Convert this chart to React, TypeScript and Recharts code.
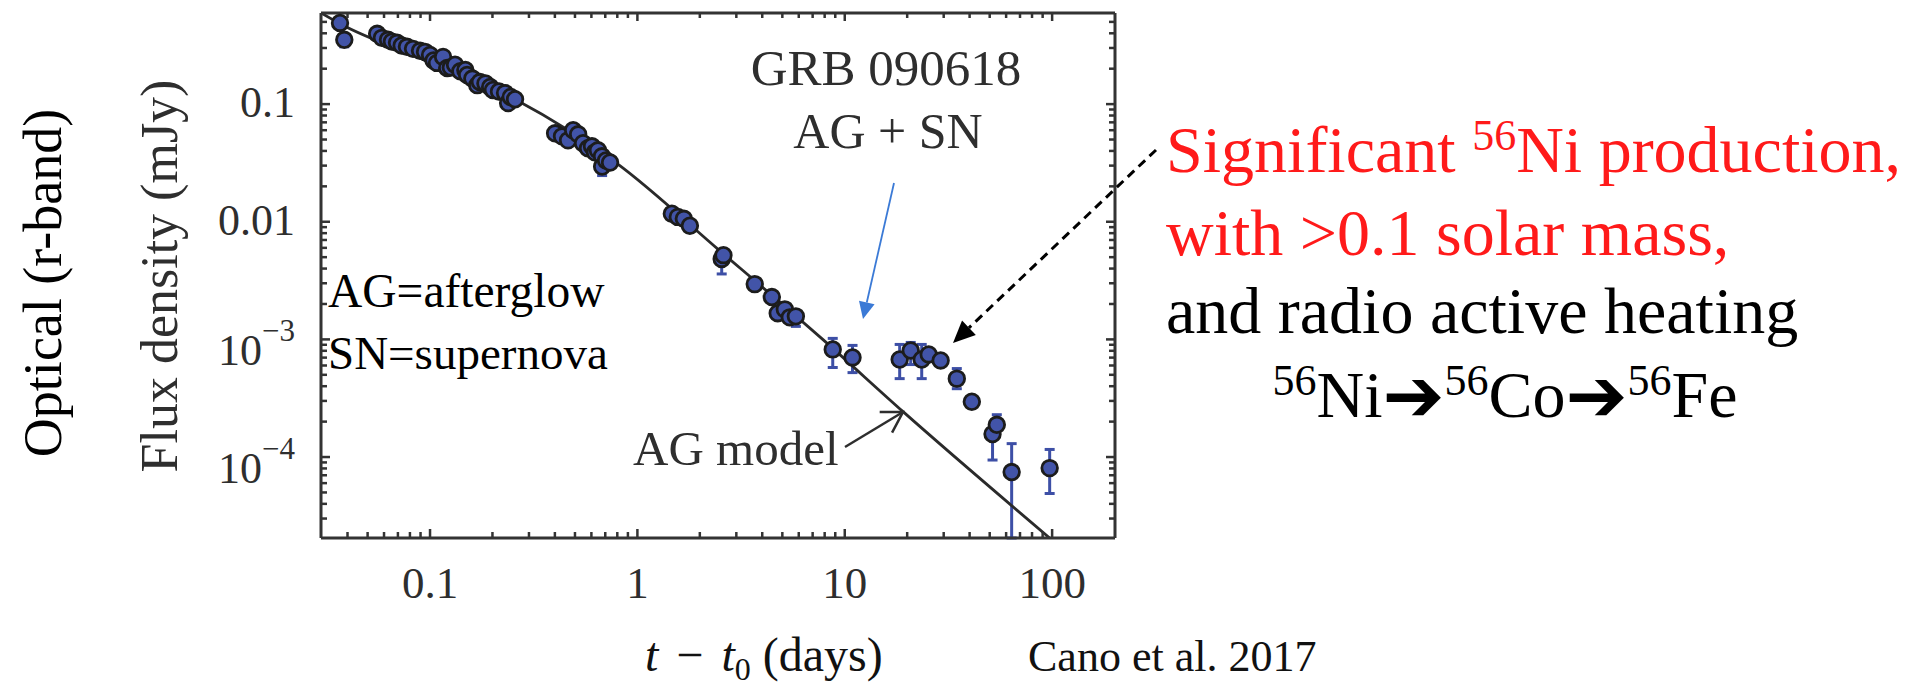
import React from "react";
import { ComposedChart, Scatter, Line, XAxis, YAxis, ErrorBar } from "recharts";

// r-band photometry of GRB 090618 (days since trigger, flux density in mJy)
const obsTime = [
  0.0368, 0.0386,
  0.0556, 0.0586, 0.0627, 0.0655, 0.0693, 0.073, 0.0774, 0.0828, 0.0895, 0.0946,
  0.1, 0.104, 0.108, 0.1156, 0.121, 0.126, 0.132, 0.14, 0.148, 0.151,
  0.16, 0.169, 0.174, 0.185, 0.195, 0.201, 0.215, 0.23, 0.238, 0.245, 0.257,
  0.401, 0.433, 0.463, 0.49, 0.518, 0.547, 0.578, 0.604, 0.624, 0.645, 0.675, 0.676, 0.706, 0.738,
  1.466, 1.566, 1.675, 1.791, 2.55, 2.6, 3.68, 4.45, 4.75, 5.14, 5.43, 5.81,
  8.75, 10.9, 18.4, 20.8, 23.5, 25.4, 29.0, 34.7, 41.0, 51.6, 54.1, 63.8, 97.3,
];
const obsFlux = [
  0.49, 0.352,
  0.396, 0.366, 0.352, 0.34, 0.332, 0.315, 0.307, 0.295, 0.284, 0.278,
  0.262, 0.235, 0.224, 0.252, 0.203, 0.205, 0.216, 0.19, 0.195, 0.177,
  0.165, 0.145, 0.154, 0.15, 0.14, 0.132, 0.128, 0.124, 0.102, 0.115, 0.11,
  0.0565, 0.0532, 0.0492, 0.06, 0.0554, 0.0465, 0.0421, 0.0438, 0.0389, 0.0405, 0.036, 0.0295, 0.0332, 0.0319,
  0.0117, 0.011, 0.0106, 0.00925, 0.00483, 0.0052, 0.00295, 0.00229, 0.00167, 0.0018, 0.00154, 0.00157,
  8.22e-4, 7.02e-4, 6.75e-4, 8.05e-4, 6.75e-4, 7.45e-4, 6.62e-4, 4.64e-4, 2.95e-4, 1.57e-4, 1.88e-4, 7.45e-5, 8.05e-5,
];

// points with a visible error bar: lower / upper end of the bar
const barTime = [0.0386, 0.676, 2.55, 5.81, 8.75, 10.9, 18.4, 20.8, 23.5, 34.7, 51.6, 54.1, 63.8, 97.3];
const barLow = [0.307, 0.0247, 0.0036, 0.00129, 5.77e-4, 5.22e-4, 4.64e-4, 6.11e-4, 4.64e-4, 3.81e-4, 9.43e-5, 1.88e-4, 2.05e-5, 4.9e-5];
const barHigh = [0.352, 0.0295, 0.00483, 0.00157, 1.02e-3, 8.89e-4, 9.06e-4, 9.42e-4, 9.06e-4, 5.65e-4, 1.57e-4, 2.29e-4, 1.3e-4, 1.16e-4];

// afterglow model curve
const modelTime = [0.0298, 0.0368, 0.1, 0.262, 0.796, 2.5, 7.83, 19.1, 97.3];
const modelFlux = [0.595, 0.483, 0.229, 0.108, 0.0313, 0.00565, 0.001, 2.43e-4, 2.05e-5];

const xMajorTicks = [0.1, 1, 10, 100];
const xMajorLabels = ["0.1", "1", "10", "100"];
const xMinorTicks = [
  0.04, 0.05, 0.06, 0.07, 0.08, 0.09,
  0.2, 0.3, 0.4, 0.5, 0.6, 0.7, 0.8, 0.9,
  2, 3, 4, 5, 6, 7, 8, 9,
  20, 30, 40, 50, 60, 70, 80, 90,
];
const yMajorTicks = [0.1, 0.01, 0.001, 0.0001];
const yMajorBase = ["0.1", "0.01", "10", "10"];
const yMajorExp = ["", "", "−3", "−4"];
const yMinorTicks = [
  3e-5, 4e-5, 5e-5, 6e-5, 7e-5, 8e-5, 9e-5,
  2e-4, 3e-4, 4e-4, 5e-4, 6e-4, 7e-4, 8e-4, 9e-4,
  0.002, 0.003, 0.004, 0.005, 0.006, 0.007, 0.008, 0.009,
  0.02, 0.03, 0.04, 0.05, 0.06, 0.07, 0.08, 0.09,
  0.2, 0.3, 0.4, 0.5,
];

const W = 1930;
const H = 688;
const PLOT = { left: 321, right: 1115, top: 13, bottom: 538 };
const X_DOMAIN = [0.0298, 201];
const Y_DOMAIN = [2.05e-5, 0.595];

const SERIF = '"Liberation Serif", "Times New Roman", serif';
const FRAME = "#333333";
const INK = "#2e2e2e";
const POINT_FILL = "#4254a8";
const POINT_EDGE = "#1c1c1c";
const BAR = "#3d4fa6";
const RED = "#ff1a1a";

const points = obsTime.map((t, i) => {
  const f = obsFlux[i];
  const j = barTime.indexOf(t);
  return { t, f, err: j >= 0 ? [f - barLow[j], barHigh[j] - f] : [0, 0] };
});
const model = modelTime.map((t, i) => ({ t, f: modelFlux[i] }));

function BottomTick(props: any) {
  const { x, payload } = props;
  const i = xMajorTicks.indexOf(payload.value);
  const len = i >= 0 ? 9 : 6;
  return (
    <g>
      <line x1={x} x2={x} y1={PLOT.bottom} y2={PLOT.bottom - len} stroke={FRAME} strokeWidth={2.5} />
      {i >= 0 && (
        <text x={x} y={PLOT.bottom + 60} textAnchor="middle" fontSize={45} fill={INK} fontFamily={SERIF}>
          {xMajorLabels[i]}
        </text>
      )}
    </g>
  );
}

function TopTick(props: any) {
  const { x, payload } = props;
  const len = xMajorTicks.includes(payload.value) ? 8 : 5;
  return <line x1={x} x2={x} y1={PLOT.top} y2={PLOT.top + len} stroke={FRAME} strokeWidth={2.5} />;
}

function LeftTick(props: any) {
  const { y, payload } = props;
  const i = yMajorTicks.indexOf(payload.value);
  const len = i >= 0 ? 9 : 6;
  const lx = PLOT.left - 26;
  return (
    <g>
      <line x1={PLOT.left} x2={PLOT.left + len} y1={y} y2={y} stroke={FRAME} strokeWidth={2.5} />
      {i >= 0 && yMajorExp[i] === "" && (
        <text x={lx} y={y + 13} textAnchor="end" fontSize={44} fill={INK} fontFamily={SERIF}>
          {yMajorBase[i]}
        </text>
      )}
      {i >= 0 && yMajorExp[i] !== "" && (
        <text x={lx} y={y + 26} textAnchor="end" fontSize={44} fill={INK} fontFamily={SERIF}>
          {yMajorBase[i]}
          <tspan dy={-24} fontSize={31}>{yMajorExp[i]}</tspan>
        </text>
      )}
    </g>
  );
}

function RightTick(props: any) {
  const { y, payload } = props;
  const len = yMajorTicks.includes(payload.value) ? 9 : 6;
  return <line x1={PLOT.right} x2={PLOT.right - len} y1={y} y2={y} stroke={FRAME} strokeWidth={2.5} />;
}

function Dot(props: any) {
  return <circle cx={props.cx} cy={props.cy} r={7.8} fill={POINT_FILL} stroke={POINT_EDGE} strokeWidth={2.8} />;
}

function arrowHead(x1: number, y1: number, x2: number, y2: number, len: number, half: number) {
  const d = Math.hypot(x2 - x1, y2 - y1);
  const ux = (x2 - x1) / d;
  const uy = (y2 - y1) / d;
  const bx = x2 - ux * len;
  const by = y2 - uy * len;
  return {
    bx,
    by,
    a: [bx - uy * half, by + ux * half],
    b: [bx + uy * half, by - ux * half],
  };
}

function Annotations() {
  const blue = arrowHead(894, 183, 863, 319, 17, 8);
  const dash = arrowHead(1156, 150, 953, 343, 22, 10);
  const open = arrowHead(845, 447, 903, 412, 20, 12);
  const ARROW_FONT = '"DejaVu Sans", sans-serif';
  return (
    <svg width={W} height={H} style={{ position: "absolute", left: 0, top: 0, pointerEvents: "none" }} fontFamily={SERIF}>
      <text transform="translate(43,283) rotate(-90)" textAnchor="middle" dominantBaseline="central" fontSize={54} fill="#000">
        Optical (r-band)
      </text>
      <text transform="translate(159,276) rotate(-90)" textAnchor="middle" dominantBaseline="central" fontSize={52} fill={INK}>
        Flux density (mJy)
      </text>
      <text x={645} y={671} fontSize={48} fill="#111" xmlSpace="preserve">
        <tspan fontStyle="italic">t</tspan>
        <tspan dx={6}> − </tspan>
        <tspan dx={6} fontStyle="italic">t</tspan>
        <tspan dy={9} fontSize={32}>0</tspan>
        <tspan dy={-9} dx={12}>(days)</tspan>
      </text>
      <text x={1028} y={671} fontSize={44} fill="#111">Cano et al. 2017</text>

      <text x={886} y={85} textAnchor="middle" fontSize={51} fill={INK}>GRB 090618</text>
      <text x={888} y={148} textAnchor="middle" fontSize={50} fill={INK}>AG + SN</text>
      <text x={328} y={307} fontSize={47.5} fill="#000">AG=afterglow</text>
      <text x={328} y={369} fontSize={47} fill="#000">SN=supernova</text>
      <text x={633} y={465} fontSize={49} fill={INK}>AG model</text>

      <line x1={894} y1={183} x2={blue.bx} y2={blue.by} stroke="#3b7ad6" strokeWidth={1.8} />
      <polygon points={`863,319 ${blue.a.join(",")} ${blue.b.join(",")}`} fill="#3b7ad6" />

      <line x1={1156} y1={150} x2={dash.bx} y2={dash.by} stroke="#000" strokeWidth={3} strokeDasharray="9 6" />
      <polygon points={`953,343 ${dash.a.join(",")} ${dash.b.join(",")}`} fill="#000" />

      <line x1={845} y1={447} x2={903} y2={412} stroke={INK} strokeWidth={2.5} />
      <polyline points={`${open.a.join(",")} 903,412 ${open.b.join(",")}`} fill="none" stroke={INK} strokeWidth={2.5} />

      <text x={1166} y={172} fontSize={66} fill={RED}>
        Significant <tspan dy={-22} fontSize={44}>56</tspan>
        <tspan dy={22}>Ni production,</tspan>
      </text>
      <text x={1166} y={255} fontSize={66} fill={RED}>with &gt;0.1 solar mass,</text>
      <text x={1166} y={333} fontSize={66} fill="#000">and radio active heating</text>
      <text x={1505} y={417} textAnchor="middle" fontSize={66} fill="#000">
        <tspan dy={-22} fontSize={44}>56</tspan>
        <tspan dy={22}>Ni</tspan>
        <tspan fontFamily={ARROW_FONT} fontSize={74} dy={4}>➔</tspan>
        <tspan dy={-26} fontSize={44}>56</tspan>
        <tspan dy={22}>Co</tspan>
        <tspan fontFamily={ARROW_FONT} fontSize={74} dy={4}>➔</tspan>
        <tspan dy={-26} fontSize={44}>56</tspan>
        <tspan dy={22}>Fe</tspan>
      </text>
    </svg>
  );
}

export default function App() {
  return (
    <div style={{ position: "absolute", left: 0, top: 0, width: W, height: H, background: "#fff" }}>
      <ComposedChart
        width={W}
        height={H}
        margin={{ top: PLOT.top, right: W - PLOT.right, bottom: H - PLOT.bottom - 60, left: PLOT.left - 100 }}
      >
        <XAxis
          dataKey="t"
          type="number"
          scale="log"
          domain={X_DOMAIN}
          allowDataOverflow
          ticks={[...xMinorTicks, ...xMajorTicks]}
          interval={0}
          tick={BottomTick}
          tickLine={false}
          axisLine={{ stroke: FRAME, strokeWidth: 3 }}
          height={60}
        />
        <XAxis
          xAxisId="top"
          orientation="top"
          mirror
          dataKey="t"
          type="number"
          scale="log"
          domain={X_DOMAIN}
          allowDataOverflow
          ticks={[...xMinorTicks, ...xMajorTicks]}
          interval={0}
          tick={TopTick}
          tickLine={false}
          axisLine={{ stroke: FRAME, strokeWidth: 3 }}
        />
        <YAxis
          type="number"
          scale="log"
          domain={Y_DOMAIN}
          allowDataOverflow
          ticks={[...yMinorTicks, ...yMajorTicks]}
          interval={0}
          tick={LeftTick}
          tickLine={false}
          axisLine={{ stroke: FRAME, strokeWidth: 3 }}
          width={100}
        />
        <YAxis
          yAxisId="right"
          orientation="right"
          mirror
          type="number"
          scale="log"
          domain={Y_DOMAIN}
          allowDataOverflow
          ticks={[...yMinorTicks, ...yMajorTicks]}
          interval={0}
          tick={RightTick}
          tickLine={false}
          axisLine={{ stroke: FRAME, strokeWidth: 3 }}
        />
        <Scatter data={points} dataKey="f" shape={Dot} isAnimationActive={false}>
          <ErrorBar dataKey="err" direction="y" width={5} stroke={BAR} strokeWidth={3} />
        </Scatter>
        <Line
          data={model}
          dataKey="f"
          type="monotone"
          dot={false}
          stroke="#2a2a2a"
          strokeWidth={2.8}
          isAnimationActive={false}
        />
      </ComposedChart>
      <Annotations />
    </div>
  );
}
